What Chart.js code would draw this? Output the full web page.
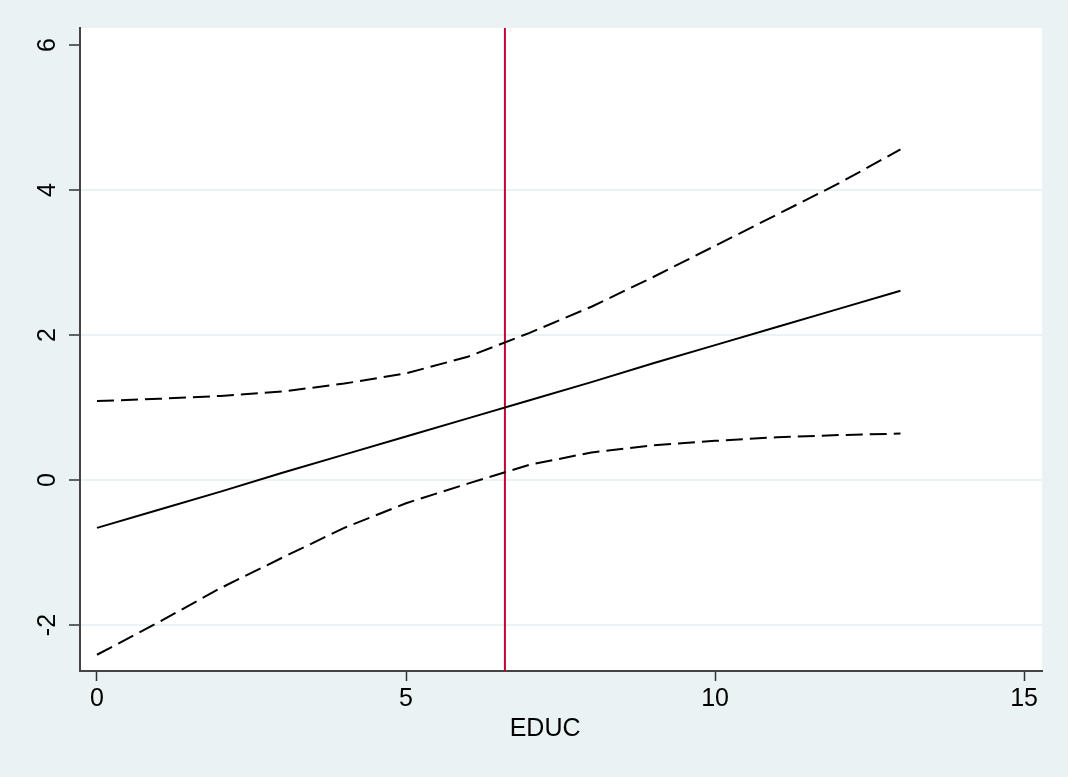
<!DOCTYPE html>
<html>
<head>
<meta charset="utf-8">
<script src="https://cdn.jsdelivr.net/npm/chart.js@4"></script>
<style>
  html, body { margin: 0; padding: 0; background: #EAF2F3; }
  #wrap { width: 1068px; height: 777px; }
</style>
</head>
<body>
<div id="wrap"><canvas id="c" width="1068" height="777"></canvas></div>
<script>
// ---- data ----
const educ   = [0, 1, 2, 3, 4, 5, 6, 7, 8, 9, 10, 11, 12, 13];
const fitted = [-0.66, -0.41, -0.16, 0.10, 0.35, 0.60, 0.85, 1.10, 1.35, 1.61, 1.86, 2.11, 2.36, 2.61];
const upper  = [1.09, 1.12, 1.16, 1.22, 1.33, 1.47, 1.70, 2.03, 2.39, 2.80, 3.23, 3.66, 4.09, 4.56];
const lower  = [-2.41, -1.96, -1.49, -1.07, -0.66, -0.32, -0.05, 0.21, 0.38, 0.48, 0.54, 0.59, 0.62, 0.64];
const refLineX = 6.6;
const xTicks = [0, 5, 10, 15];
const yTicks = [-2, 0, 2, 4, 6];
const xTitle = 'EDUC';
const xRange = [-0.275, 15.29];
const yRange = [-2.634, 6.234];

const FONT = '"Liberation Sans", Arial, Helvetica, sans-serif';
const FSIZE = 25;
const pts = (xs, ys) => xs.map((x, i) => ({ x: x, y: ys[i] }));

const plotBg = {
  id: 'plotBg',
  beforeDraw(chart) {
    const { ctx, chartArea: a } = chart;
    ctx.save();
    ctx.fillStyle = '#ffffff';
    ctx.fillRect(a.left, a.top, a.right - a.left, a.bottom - a.top);
    ctx.restore();
  }
};

const axisText = {
  id: 'axisText',
  afterDraw(chart) {
    const { ctx } = chart;
    const ys = chart.scales.y;
    const xs = chart.scales.x;
    ctx.save();
    ctx.fillStyle = '#000000';
    ctx.font = FSIZE + 'px ' + FONT;
    ctx.textAlign = 'center';
    ctx.textBaseline = 'alphabetic';
    // rotated y tick labels
    yTicks.forEach(v => {
      const py = ys.getPixelForValue(v);
      ctx.save();
      ctx.translate(ys.right - 25, py);
      ctx.rotate(-Math.PI / 2);
      ctx.fillText(String(v), 0, 0);
      ctx.restore();
    });
    // x axis title (placed like the reference)
    ctx.fillText(xTitle, xs.getPixelForValue(7.25), xs.top + 65);
    ctx.restore();
  }
};

new Chart(document.getElementById('c'), {
  type: 'scatter',
  data: {
    datasets: [
      {
        label: 'xline',
        data: [{ x: refLineX, y: yRange[0] }, { x: refLineX, y: yRange[1] }],
        showLine: true, borderColor: '#C10534', borderWidth: 2,
        pointRadius: 0, order: 4
      },
      {
        label: 'fitted',
        data: pts(educ, fitted),
        showLine: true, borderColor: '#000000', borderWidth: 2,
        pointRadius: 0, tension: 0, order: 1
      },
      {
        label: 'upper',
        data: pts(educ, upper),
        showLine: true, borderColor: '#000000', borderWidth: 2,
        borderDash: [17, 7], pointRadius: 0, tension: 0, order: 2
      },
      {
        label: 'lower',
        data: pts(educ, lower),
        showLine: true, borderColor: '#000000', borderWidth: 2,
        borderDash: [17, 7], pointRadius: 0, tension: 0, order: 3
      }
    ]
  },
  options: {
    responsive: false,
    animation: false,
    devicePixelRatio: 1,
    layout: { padding: { left: 0, right: 26, top: 28, bottom: 0 } },
    plugins: { legend: { display: false }, tooltip: { enabled: false } },
    scales: {
      x: {
        type: 'linear',
        min: xRange[0], max: xRange[1],
        afterBuildTicks: s => { s.ticks = xTicks.map(v => ({ value: v })); },
        afterFit: s => { s.height = 106; },
        grid: { drawOnChartArea: false, drawTicks: true, tickLength: 10, tickColor: '#333333', tickWidth: 1.5 },
        border: { display: true, color: '#444444', width: 2 },
        ticks: { color: '#000000', font: { family: FONT, size: FSIZE }, padding: 3, maxRotation: 0 },
        title: { display: false }
      },
      y: {
        type: 'linear',
        min: yRange[0], max: yRange[1],
        afterBuildTicks: s => { s.ticks = yTicks.map(v => ({ value: v })); },
        afterFit: s => { s.width = 80; },
        grid: {
          drawOnChartArea: true, drawTicks: true, tickLength: 11,
          color: ctx => (ctx.tick && ctx.tick.value === 6) ? 'rgba(0,0,0,0)' : '#EAF2F3',
          lineWidth: 2, tickColor: '#333333', tickWidth: 1.5
        },
        border: { display: true, color: '#444444', width: 2 },
        ticks: { display: false }
      }
    }
  },
  plugins: [plotBg, axisText]
});
</script>
</body>
</html>
